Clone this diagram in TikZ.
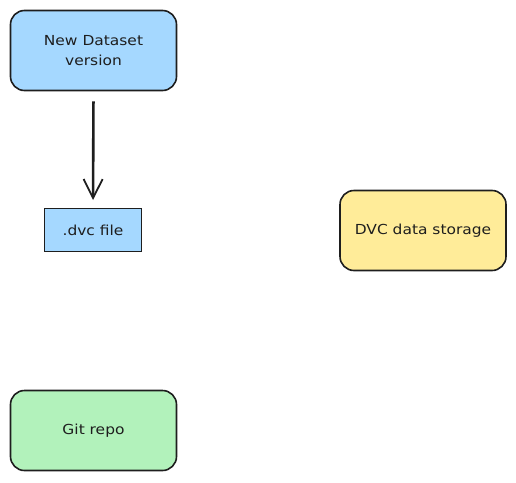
\documentclass[tikz,border=0pt]{standalone}
\usepackage{fontspec}
\setmainfont{DejaVu Sans}[FakeStretch=1.12]
\usetikzlibrary{arrows.meta}
\definecolor{lblue}{HTML}{A5D8FF}
\definecolor{lyellow}{HTML}{FFEC99}
\definecolor{lgreen}{HTML}{B2F2BB}
\definecolor{ink}{HTML}{1E1E1E}
\tikzset{
  rbox/.style={draw=ink, line width=1.6pt, rounded corners=14pt, minimum width=166pt, minimum height=80pt, align=center, inner sep=0pt, font=\fontsize{13.8}{20}\selectfont, text=ink},
  sbox/.style={draw=ink, line width=0.9pt, minimum width=97pt, minimum height=43pt, align=center, inner sep=0pt, font=\fontsize{13.8}{20}\selectfont, text=ink},
  conn/.style={draw=ink, line width=2.6pt, -{Straight Barb[length=19pt,width=19pt,line width=1.8pt]}}
}
\begin{document}
\begin{tikzpicture}[x=1pt,y=-1pt]
\useasboundingbox (0,0) rectangle (516,482);
\node[rbox, fill=lblue] (nd) at (93.5,50.5) {New Dataset\\version};
\node[sbox, fill=lblue] (dvc) at (93,230) {.dvc file};
\node[rbox, fill=lyellow] (store) at (423,230.5) {DVC data storage};
\node[rbox, fill=lgreen] (git) at (93.5,430.5) {Git repo};
\draw[conn, shorten <=10pt, shorten >=8pt] (nd.south) -- (dvc.north);
\end{tikzpicture}
\end{document}
